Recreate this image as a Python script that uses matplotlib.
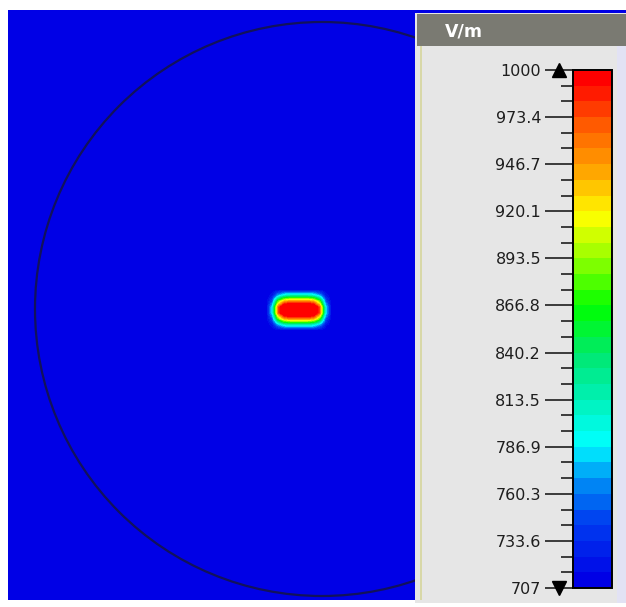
import numpy as np
import matplotlib
matplotlib.use("Agg")
import matplotlib.pyplot as plt
from matplotlib.colors import LinearSegmentedColormap, ListedColormap, Normalize
from matplotlib.patches import Circle, Rectangle
from matplotlib.transforms import blended_transform_factory

# Valeurs

unite = "V/m"
v_min = 707
v_max = 1000
graduations = [707, 733.6, 760.3, 786.9, 813.5, 840.2, 866.8, 893.5, 920.1, 946.7, 973.4, 1000]
etiquettes = ["707", "733.6", "760.3", "786.9", "813.5", "840.2",
              "866.8", "893.5", "920.1", "946.7", "973.4", "1000"]
nb_niveaux = 33

# couleurs de l'échelle (position relative, couleur)
ancres = [
    (0.00, "#0000e6"),
    (0.12, "#0040f0"),
    (0.20, "#0090f5"),
    (0.273, "#00ffff"),
    (0.37, "#00f0b0"),
    (0.45, "#00e870"),
    (0.545, "#00ff00"),
    (0.64, "#90ff00"),
    (0.727, "#ffff00"),
    (0.818, "#ffa500"),
    (0.91, "#ff5a00"),
    (1.00, "#ff0000"),
]

# point chaud : positions (pixels de l'image) et valeurs du champ
x_pts = [266, 272, 278, 284, 290, 296, 302, 308, 314, 320, 326, 332]
y_pts = [288.5, 294.5, 300.5, 306.5, 312.5, 318.5, 324.5, 330.5]
champ = [
    [707, 707, 707, 707, 707, 707, 707, 707, 707, 707, 707, 707],
    [707, 720, 770, 800, 810, 810, 810, 810, 800, 770, 720, 707],
    [707, 750, 880, 940, 955, 955, 955, 955, 940, 880, 750, 707],
    [707, 790, 970, 1040, 1060, 1060, 1060, 1060, 1040, 970, 790, 707],
    [707, 790, 970, 1040, 1060, 1060, 1060, 1060, 1040, 970, 790, 707],
    [707, 750, 880, 940, 955, 955, 955, 955, 940, 880, 750, 707],
    [707, 720, 770, 800, 810, 810, 810, 810, 800, 770, 720, 707],
    [707, 707, 707, 707, 707, 707, 707, 707, 707, 707, 707, 707],
]

# cercle du domaine (pixels)
cx, cy, rayon = 322, 309, 287

W, H = 626, 607


def px(x0, y0, x1, y1):
    return [x0 / W, 1 - y1 / H, (x1 - x0) / W, (y1 - y0) / H]


def u(x):
    return (x - cx) / rayon


def v(y):
    return (cy - y) / rayon


base = LinearSegmentedColormap.from_list("echelle", ancres)
cmap = ListedColormap(base(np.linspace(0, 1, nb_niveaux)))
cmap.set_over("#ff0000")
cmap.set_under(base(0.0))
norm = Normalize(vmin=v_min, vmax=v_max)

fig = plt.figure(figsize=(W / 100, H / 100), dpi=100)
fig.patch.set_facecolor("white")

# Vue du champ
ax = fig.add_axes(px(8, 10, 417, 600))
ax.set_facecolor(base(0.0))
ax.set_xlim(u(8), u(417))
ax.set_ylim(v(600), v(10))
ax.set_aspect("equal")
ax.axis("off")
ax.add_patch(Rectangle((0, 0), 1, 1, transform=ax.transAxes,
                       facecolor=base(0.0), edgecolor="none", zorder=0))

dx = (x_pts[1] - x_pts[0]) / 2
dy = (y_pts[1] - y_pts[0]) / 2
ax.imshow(np.array(champ, dtype=float), cmap=cmap, norm=norm,
          extent=[u(x_pts[0] - dx), u(x_pts[-1] + dx),
                  v(y_pts[-1] + dy), v(y_pts[0] - dy)],
          origin="upper", interpolation="bilinear",
          interpolation_stage="data", zorder=2)

ax.add_patch(Circle((0, 0), 1, fill=False, edgecolor="#12125a",
                    linewidth=1.6, zorder=3))

# Panneau de la légende
fig.add_artist(Rectangle((415 / W, 1 - 603 / H), 211 / W, 593 / H,
                         transform=fig.transFigure, facecolor="#e6e6e6",
                         edgecolor="none", zorder=1))
fig.add_artist(Rectangle((415 / W, 1 - 13 / H), 211 / W, 3 / H,
                         transform=fig.transFigure, facecolor="#0000e6",
                         edgecolor="none", zorder=2))
fig.add_artist(Rectangle((617 / W, 1 - 603 / H), 9 / W, 557 / H,
                         transform=fig.transFigure, facecolor="#e2e2f4",
                         edgecolor="none", zorder=2))
fig.add_artist(Rectangle((417 / W, 1 - 46 / H), 209 / W, 32 / H,
                         transform=fig.transFigure, facecolor="#7a7a72",
                         edgecolor="none", zorder=2))
fig.add_artist(Rectangle((420 / W, 1 - 600 / H), 1.5 / W, 554 / H,
                         transform=fig.transFigure, facecolor="#d8d8a8",
                         edgecolor="none", zorder=2))
fig.text(445 / W, 1 - 31 / H, unite, color="white", fontsize=12.5,
         fontweight="bold", va="center", ha="left", zorder=3)

cax = fig.add_axes(px(573, 70, 612, 588))
cax.set_zorder(10)
sm = plt.cm.ScalarMappable(cmap=cmap, norm=norm)
cb = fig.colorbar(sm, cax=cax, ticks=graduations)
cb.outline.set_linewidth(1.4)
cb.outline.set_edgecolor("black")
cax.yaxis.set_ticks_position("left")
cax.yaxis.set_label_position("left")
cax.set_yticks(graduations)
cax.set_yticklabels(etiquettes)

mineurs = []
for a, b in zip(graduations[:-1], graduations[1:]):
    mineurs += [a + (b - a) / 3, a + 2 * (b - a) / 3]
cax.set_yticks(mineurs, minor=True)
cax.tick_params(which="major", length=20, width=1.2, pad=3,
                labelsize=11.5, labelcolor="#1e1e1e", color="#1e1e1e")
cax.tick_params(which="minor", length=9, width=1.2, color="#1e1e1e")

trans = blended_transform_factory(cax.transAxes, cax.transData)
cax.plot([-0.36], [v_max], marker="^", markersize=10, color="black",
         transform=trans, clip_on=False)
cax.plot([-0.36], [v_min], marker="v", markersize=10, color="black",
         transform=trans, clip_on=False)

fig.savefig("out.png", dpi=100)
